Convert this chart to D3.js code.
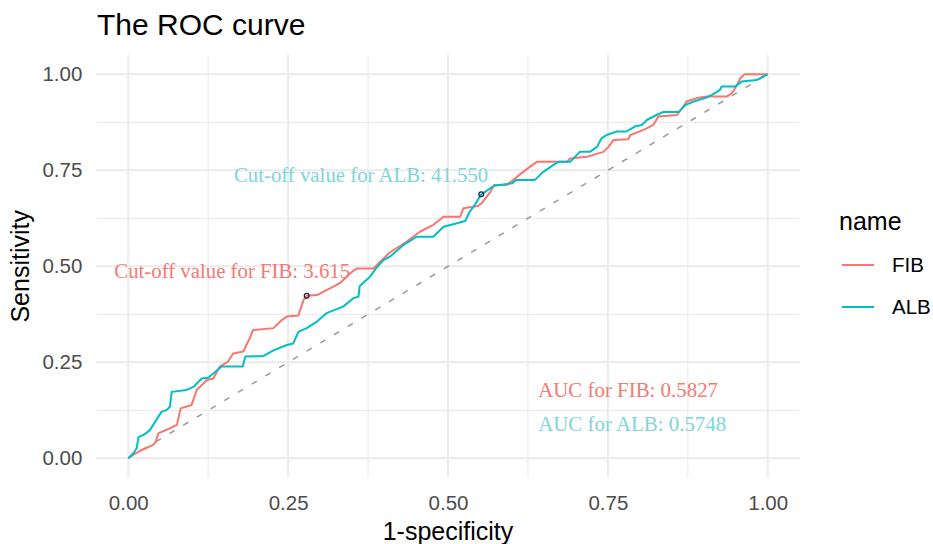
<!DOCTYPE html>
<html>
<head>
<meta charset="utf-8">
<script src="https://cdn.jsdelivr.net/npm/d3@7"></script>
<style>
  body { margin: 0; background: #fff; }
  svg { display: block; }
</style>
</head>
<body>
<svg width="933" height="544"></svg>
<script>
// ROC points: [1-specificity, sensitivity]
var fibPoints = [
  [0,0],[0.007,0.009],[0.018,0.019],[0.039,0.035],[0.043,0.043],[0.047,0.065],
  [0.065,0.078],[0.076,0.087],[0.082,0.130],[0.099,0.139],[0.107,0.178],[0.123,0.204],
  [0.133,0.208],[0.143,0.239],[0.156,0.252],[0.164,0.273],[0.180,0.278],[0.190,0.313],
  [0.195,0.334],[0.227,0.339],[0.240,0.360],[0.248,0.369],[0.266,0.372],[0.274,0.412],
  [0.279,0.423],[0.295,0.425],[0.310,0.438],[0.331,0.456],[0.347,0.482],[0.357,0.494],
  [0.383,0.494],[0.394,0.512],[0.409,0.536],[0.435,0.564],[0.456,0.590],[0.477,0.608],
  [0.493,0.629],[0.519,0.629],[0.524,0.651],[0.547,0.657],[0.553,0.665],[0.566,0.693],
  [0.572,0.712],[0.592,0.712],[0.602,0.725],[0.613,0.740],[0.628,0.759],[0.639,0.772],
  [0.686,0.772],[0.691,0.781],[0.717,0.785],[0.743,0.798],[0.751,0.811],[0.759,0.829],
  [0.782,0.831],[0.785,0.842],[0.798,0.850],[0.811,0.859],[0.821,0.868],[0.829,0.890],
  [0.858,0.894],[0.868,0.916],[0.873,0.929],[0.889,0.938],[0.905,0.942],[0.936,0.942],
  [0.944,0.951],[0.952,0.972],[0.957,0.990],[0.964,1],[1,1]
];
var albPoints = [
  [0,0],[0.008,0.013],[0.013,0.026],[0.016,0.055],[0.026,0.063],[0.034,0.074],
  [0.039,0.087],[0.047,0.108],[0.052,0.121],[0.060,0.126],[0.065,0.134],[0.068,0.173],
  [0.091,0.178],[0.102,0.186],[0.115,0.208],[0.125,0.210],[0.133,0.221],[0.146,0.239],
  [0.179,0.239],[0.183,0.265],[0.211,0.266],[0.227,0.281],[0.248,0.295],[0.258,0.299],
  [0.266,0.329],[0.279,0.339],[0.295,0.356],[0.310,0.378],[0.336,0.395],[0.352,0.417],
  [0.360,0.421],[0.362,0.449],[0.378,0.473],[0.388,0.496],[0.399,0.516],[0.409,0.525],
  [0.430,0.555],[0.451,0.577],[0.477,0.577],[0.493,0.603],[0.514,0.612],[0.527,0.618],
  [0.534,0.642],[0.542,0.660],[0.552,0.6875],[0.566,0.703],[0.573,0.710],[0.600,0.716],
  [0.607,0.725],[0.636,0.725],[0.644,0.738],[0.649,0.746],[0.665,0.764],[0.673,0.772],
  [0.691,0.772],[0.706,0.798],[0.722,0.798],[0.733,0.811],[0.740,0.833],[0.748,0.842],
  [0.764,0.851],[0.779,0.851],[0.792,0.864],[0.803,0.868],[0.811,0.881],[0.826,0.894],
  [0.837,0.902],[0.861,0.902],[0.871,0.920],[0.884,0.929],[0.902,0.938],[0.912,0.946],
  [0.925,0.959],[0.928,0.968],[0.949,0.968],[0.959,0.981],[0.983,0.985],[0.991,0.993],[1,1]
];

var seriesNames = ["FIB", "ALB"];
var seriesColors = ["#F8766D", "#00BFC4"];
var textColors = ["#F47A72", "#7DD6D9"];

// best threshold points and their labels
var cutPoints = [[0.279, 0.423], [0.552, 0.6875]];
var cutLabels = ["Cut-off value for FIB: 3.615", "Cut-off value for ALB: 41.550"];
var cutLabelPos = [[0.347, 0.4695], [0.563, 0.720]];

var aucLabels = ["AUC for FIB: 0.5827", "AUC for ALB: 0.5748"];
var aucLabelPos = [[0.641, 0.159], [0.641, 0.072]];

var majorTicks = [0, 0.25, 0.5, 0.75, 1];
var minorTicks = [0.125, 0.375, 0.625, 0.875];

var svg = d3.select("svg");
var x = d3.scaleLinear().domain([-0.05, 1.05]).range([96.3, 799.7]);
var y = d3.scaleLinear().domain([-0.05, 1.05]).range([477.5, 55.1]);

var sans = "'Liberation Sans', Arial, sans-serif";
var serif = "'Liberation Serif', 'Times New Roman', serif";

// grid
var grid = svg.append("g");
grid.selectAll(".vmin").data(minorTicks).enter().append("line")
  .attr("x1", d => x(d)).attr("x2", d => x(d))
  .attr("y1", y.range()[0]).attr("y2", y.range()[1])
  .attr("stroke", "#ececec").attr("stroke-width", 1.2);
grid.selectAll(".hmin").data(minorTicks).enter().append("line")
  .attr("y1", d => y(d)).attr("y2", d => y(d))
  .attr("x1", x.range()[0]).attr("x2", x.range()[1])
  .attr("stroke", "#ececec").attr("stroke-width", 1.2);
grid.selectAll(".vmaj").data(majorTicks).enter().append("line")
  .attr("x1", d => x(d)).attr("x2", d => x(d))
  .attr("y1", y.range()[0]).attr("y2", y.range()[1])
  .attr("stroke", "#ebebeb").attr("stroke-width", 2);
grid.selectAll(".hmaj").data(majorTicks).enter().append("line")
  .attr("y1", d => y(d)).attr("y2", d => y(d))
  .attr("x1", x.range()[0]).attr("x2", x.range()[1])
  .attr("stroke", "#ebebeb").attr("stroke-width", 2);

// axes (labels only)
var fmt = d3.format(".2f");
var xAxis = svg.append("g")
  .attr("transform", "translate(0," + (y.range()[0] + 2) + ")")
  .call(d3.axisBottom(x).tickValues(majorTicks).tickFormat(fmt).tickSize(0).tickPadding(16));
var yAxis = svg.append("g")
  .attr("transform", "translate(" + (x.range()[0] - 14) + ",0)")
  .call(d3.axisLeft(y).tickValues(majorTicks).tickFormat(fmt).tickSize(0).tickPadding(0));
[xAxis, yAxis].forEach(function(g) {
  g.select(".domain").remove();
  g.selectAll("text").attr("font-family", sans).attr("font-size", 20.5).attr("fill", "#4d4d4d");
});

// diagonal reference
svg.append("line")
  .attr("x1", x(0)).attr("y1", y(0)).attr("x2", x(1)).attr("y2", y(1))
  .attr("stroke", "#9a9a9a").attr("stroke-width", 1.5)
  .attr("stroke-dasharray", "6,10");

// curves
var line = d3.line().x(d => x(d[0])).y(d => y(d[1]));
[fibPoints, albPoints].forEach(function(pts, i) {
  svg.append("path").datum(pts)
    .attr("d", line)
    .attr("fill", "none")
    .attr("stroke", seriesColors[i])
    .attr("stroke-width", 2)
    .attr("stroke-linejoin", "round");
});

// cut-off points
svg.selectAll(".cut").data(cutPoints).enter().append("circle")
  .attr("cx", d => x(d[0])).attr("cy", d => y(d[1])).attr("r", 2.4)
  .attr("fill", "none").attr("stroke", "#1d2740").attr("stroke-width", 1.3);

// annotations
svg.selectAll(".cutlab").data(cutLabels).enter().append("text")
  .attr("x", (d, i) => x(cutLabelPos[i][0]))
  .attr("y", (d, i) => y(cutLabelPos[i][1]))
  .attr("text-anchor", "end")
  .attr("font-family", serif).attr("font-size", 20.8)
  .attr("fill", (d, i) => textColors[i])
  .text(d => d);
svg.selectAll(".auclab").data(aucLabels).enter().append("text")
  .attr("x", (d, i) => x(aucLabelPos[i][0]))
  .attr("y", (d, i) => y(aucLabelPos[i][1]))
  .attr("font-family", serif).attr("font-size", 20.9)
  .attr("fill", (d, i) => textColors[i])
  .text(d => d);

// titles
svg.append("text").attr("x", 97).attr("y", 35)
  .attr("font-family", sans).attr("font-size", 30).attr("fill", "#000")
  .text("The ROC curve");
svg.append("text").attr("x", (x.range()[0] + x.range()[1]) / 2).attr("y", 540)
  .attr("text-anchor", "middle")
  .attr("font-family", sans).attr("font-size", 25).attr("fill", "#000")
  .text("1-specificity");
svg.append("text")
  .attr("transform", "translate(29," + ((y.range()[0] + y.range()[1]) / 2) + ") rotate(-90)")
  .attr("text-anchor", "middle")
  .attr("font-family", sans).attr("font-size", 25).attr("fill", "#000")
  .text("Sensitivity");

// legend
var legend = svg.append("g").attr("transform", "translate(839,0)");
legend.append("text").attr("x", 0).attr("y", 230)
  .attr("font-family", sans).attr("font-size", 25).attr("fill", "#000")
  .text("name");
var item = legend.selectAll(".item").data(seriesNames).enter().append("g")
  .attr("transform", (d, i) => "translate(0," + (265 + i * 42) + ")");
item.append("line").attr("x1", 3).attr("x2", 35).attr("y1", 0).attr("y2", 0)
  .attr("stroke", (d, i) => seriesColors[i]).attr("stroke-width", 2);
item.append("text").attr("x", 53).attr("y", 0).attr("dy", "0.36em")
  .attr("font-family", sans).attr("font-size", 20.5).attr("fill", "#000")
  .text(d => d);
</script>
</body>
</html>
